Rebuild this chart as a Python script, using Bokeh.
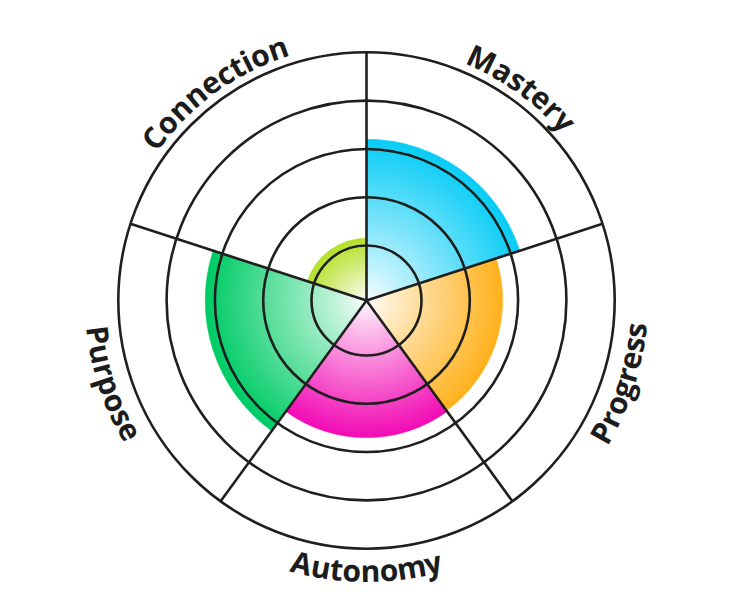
import math
from bokeh.plotting import figure
from bokeh.models import Range1d, ColumnDataSource
from bokeh.core.properties import value
from bokeh.embed import file_html
from bokeh.resources import INLINE

# ---- data ----
categories = ["Mastery", "Progress", "Autonomy", "Purpose", "Connection"]
scores = [3.2, 2.68, 2.7, 3.2, 1.15]
colors = ["#0ACDF6", "#FFB21E", "#F20DB5", "#00CC66", "#B6E02A"]
ring_levels = [1, 2, 3, 4, 5]

# ---- geometry ----
W, H = 724, 592
cx, cy = 366, H - 300
R0, STEP = 6.7, 48.3          # radius = R0 + STEP * value
def rad(v):
    return R0 + STEP * v

n = len(categories)
seg = 360.0 / n

p = figure(width=W, height=H, x_range=Range1d(0, W), y_range=Range1d(0, H),
           min_border=0, toolbar_location=None, output_backend="svg",
           x_axis_location=None, y_axis_location=None)
p.grid.visible = False
p.outline_line_color = None
p.background_fill_color = "white"

def hex2rgb(h):
    h = h.lstrip("#")
    return tuple(int(h[i:i + 2], 16) for i in (0, 2, 4))

def mix(c, t):
    r, g, b = hex2rgb(c)
    return "#%02x%02x%02x" % (round(255 + (r - 255) * t), round(255 + (g - 255) * t), round(255 + (b - 255) * t))

# gradient sectors: stacked wedges from outside in
NB = 50
xs, ys, rs, sa, ea, fc = [], [], [], [], [], []
for i, (s, c) in enumerate(zip(scores, colors)):
    R = rad(s)
    th0 = seg * i
    th1 = seg * (i + 1)
    start = math.radians(90 - th1)
    end = math.radians(90 - th0)
    for k in range(NB, 0, -1):
        t = k / NB
        xs.append(cx); ys.append(cy); rs.append(R * t)
        sa.append(start); ea.append(end)
        fc.append(mix(c, min(1.0, t ** 0.9)))
src = ColumnDataSource(dict(x=xs, y=ys, r=rs, sa=sa, ea=ea, fc=fc))
p.wedge(x="x", y="y", radius="r", start_angle="sa", end_angle="ea", direction="anticlock",
        fill_color="fc", line_color="fc", line_width=0.6, source=src)

# rings
LC = "#1f1f1f"
p.circle(x=[cx] * len(ring_levels), y=[cy] * len(ring_levels),
         radius=[rad(v) for v in ring_levels], fill_color=None,
         line_color=LC, line_width=2.6)

# radial lines
Rout = rad(ring_levels[-1])
x1 = [cx + Rout * math.sin(math.radians(seg * i)) for i in range(n)]
y1 = [cy + Rout * math.cos(math.radians(seg * i)) for i in range(n)]
p.segment(x0=[cx] * n, y0=[cy] * n, x1=x1, y1=y1, line_color=LC, line_width=2.6)

# curved labels
widths = {"A": .683, "C": .637, "M": .948, "P": .631, "a": .594, "c": .495, "e": .576,
          "g": .543, "i": .282, "m": .931, "n": .652, "o": .607, "p": .623, "r": .454,
          "s": .494, "t": .425, "u": .652, "y": .562}
FS = 30
SPACE_TOP = 0.05
SPACE_BOT = -0.02
R_TOP = 268
R_BOT = 270
lx, ly, lt, la = [], [], [], []
for i, name in enumerate(categories):
    mid = seg * (i + 0.5)
    top = (mid < 90 or mid > 270)
    Rb = R_TOP if top else R_BOT
    sp = SPACE_TOP if top else SPACE_BOT
    ws = [widths.get(ch, 0.55) * FS * (1 + sp) for ch in name]
    total = sum(ws)
    acc = 0.0
    for ch, w in zip(name, ws):
        sc = acc + w / 2 - total / 2
        acc += w
        d = math.degrees(sc / Rb)
        th = mid + d if top else mid - d
        tr = math.radians(th)
        lx.append(cx + Rb * math.sin(tr))
        ly.append(cy + Rb * math.cos(tr))
        lt.append(ch)
        la.append(-tr if top else math.pi - tr)
p.text(x=lx, y=ly, text=lt, angle=la, text_align="center", text_baseline="alphabetic",
       text_font=value("Open Sans"), text_font_style="bold", text_font_size="%dpx" % FS,
       text_color="#1c1c1c")

open("out.html", "w").write(file_html(p, INLINE))
